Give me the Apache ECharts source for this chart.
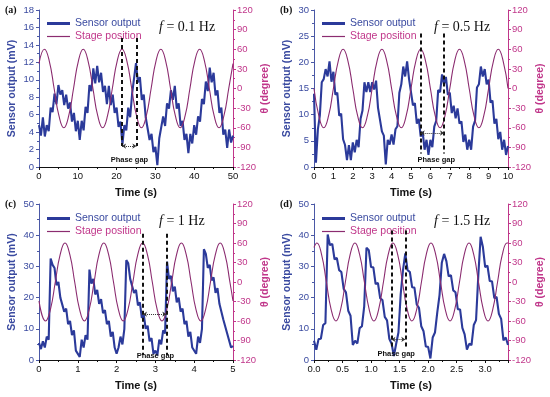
<!DOCTYPE html>
<html>
<head>
<meta charset="utf-8">
<script src="https://cdn.jsdelivr.net/npm/echarts@6/dist/echarts.min.js"></script>
<style>
  html, body { margin: 0; padding: 0; background: #fff; }
  #chart { width: 550px; height: 397px; }
</style>
</head>
<body>
<div id="chart"></div>
<script>
// ---- data ----
var panelTags = ['(a)', '(b)', '(c)', '(d)'];
var freqLabels = ['0.1', '0.5', '1', '1.5'];

// x axis: [min, max, interval]
var timeAxes = [[0, 50, 10], [0, 10, 1], [0, 5, 1], [0, 3.4, 0.5]];
// left y axis: [max, interval]
var sensorAxes = [[18, 2], [30, 5], [50, 10], [50, 10]];

// sensor output (mV), sampled evenly; sample step per panel (s)
var sensorStep = [0.5, 0.1, 0.05, 0.04];

var sensorA = [4.8, 3.6, 5.7, 3.5, 4.8, 4.1, 6.8, 6.3, 8.4, 7.2, 9.4, 8.3, 8.8, 7.1, 8.3, 6.7, 7.4, 5.2, 6.2, 4.1,
  5.3, 3.1, 5.3, 4.2, 6.9, 6.2, 9.4, 8.7, 11.3, 9.6, 11.6, 9.7, 10.8, 8.6, 9.3, 7.2, 9.3, 7.1, 8.3, 6.2,
  6.8, 4.6, 5.2, 2.6, 4.8, 4.2, 6.8, 5.7, 8.4, 8.2, 11.9, 9.7, 10.3, 7.7, 8.3, 5.7, 5.8, 3.1, 3.8, 1.7,
  2.3, 0.2, 3.3, 3.2, 5.8, 4.7, 7.3, 6.7, 8.8, 7.7, 9.3, 6.7, 7.3, 4.7, 5.3, 3.1, 3.8, 1.6, 3.8, 2.7,
  4.8, 3.7, 5.8, 5.2, 7.8, 7.2, 9.8, 8.7, 11.4, 9.7, 10.8, 8.2, 8.8, 6.2, 6.8, 3.7, 4.3, 2.2, 4.3, 2.8, 3.6];

var sensorB = [14, 0.8, 7.2, 9.8, 16.2, 16.8, 18.7, 17.3, 20.2, 16.3, 18.2, 13.8, 14.2, 9.8, 10.2, 5.3, 4.2, 1.3, 4.2, 1.3,
  4.7, 2.8, 5.2, 3.8, 9.2, 10.8, 16.2, 14.3, 16.2, 14.3, 16.2, 14.8, 16.5, 11.3, 11.2, 6.8, 6.0, 0.5, 5.2, 4.3,
  6.2, 4.3, 7.2, 7.8, 14.2, 15.8, 19.2, 17.3, 20.2, 16.8, 16.7, 11.8, 12.2, 8.3, 9.2, 5.8, 6.7, 3.3, 5.2, 2.3,
  5.2, 3.8, 7.7, 8.8, 14.7, 14.3, 17.7, 15.8, 17.2, 13.8, 14.2, 10.3, 11.7, 9.3, 11.2, 8.3, 8.7, 4.8, 6.2, 3.3,
  5.2, 3.3, 7.7, 8.8, 15.2, 15.8, 19.2, 17.3, 18.7, 15.8, 16.7, 12.3, 12.7, 8.3, 9.2, 5.3, 6.7, 3.3, 5.2, 2.3, 4];

var sensorC = [5.5, 3.5, 6, 4, 7.5, 6.5, 32.5, 30.5, 29.5, 24, 25, 20, 20.5, 15.5, 16.5, 11.5, 12.5, 8, 9.5, 3,
  2.5, 1, 6.5, 4, 8, 6.5, 29, 24.5, 26, 21, 22.5, 18, 19.5, 15, 16, 11.5, 12.5, 7.5, 9, 4,
  2, 4, 7.5, 5, 10, 32, 31, 26, 26.5, 21.5, 22.5, 17.5, 18.5, 13.5, 14.5, 10, 11, 6, 7, 2,
  3, 1.5, 6.5, 5, 9.5, 8.5, 31.5, 26, 27, 22, 23.5, 18.5, 20, 15.5, 16.5, 11.5, 12.5, 7.5, 9, 4,
  4.5, 2, 7.5, 5.5, 10, 35.5, 34, 29.5, 30.5, 25.5, 26.5, 21.5, 23, 18, 18.5, 13, 13.5, 8.5, 9, 4, 4.5];

var sensorD = [6.2, 3.3, 6.7, 6.8, 11.2, 11.8, 40.2, 36.8, 37.2, 32.3, 32.7, 28.8, 28.2, 22.8, 21.7, 15.8, 14.2, 4.8, 6.2, 5.3,
  10.2, 10.8, 17.2, 36, 35.2, 29.8, 29.7, 24.3, 24.7, 19.8, 19.2, 13.8, 12.7, 6.8, 5.2, 1.3, 5.2, 8.8, 21.2, 28.8,
  34.2, 28.8, 28.2, 23.3, 23.2, 17.8, 16.7, 10.8, 9.2, 4.3, 4.2, 0.5, 7.2, 8.8, 15.2, 20.8, 31.2, 34, 31.7, 26.8,
  27.2, 22.3, 21.7, 16.3, 16.2, 10.3, 8.2, 3.3, 5.2, 4.8, 11.2, 12.8, 27.2, 39.5, 36.2, 29.8, 30.2, 25.3, 25.2, 19.8,
  20.2, 14.8, 13.2, 6.3, 7.2, 4.8];

// stage position (degree): [time, angle] at peaks, zero crossings and troughs
var stageA = [[0, 38], [1.4, 60], [2.65, 42], [3.9, 0], [5.15, -42], [6.4, -60], [7.65, -42], [8.9, 0],
  [10.15, 42], [11.4, 60], [12.65, 42], [13.9, 0], [15.15, -42], [16.4, -60], [17.65, -42], [18.9, 0],
  [20.15, 42], [21.4, 60], [22.65, 42], [23.9, 0], [25.15, -42], [26.4, -60], [27.65, -42], [28.9, 0],
  [30.15, 42], [31.4, 60], [32.65, 42], [33.9, 0], [35.15, -42], [36.4, -60], [37.65, -42], [38.9, 0],
  [40.15, 42], [41.4, 60], [42.65, 42], [43.9, 0], [45.15, -42], [46.4, -60], [47.65, -42], [48.9, 0], [50, 38]];

var stageB = [[0, 0], [0.25, -42], [0.5, -60], [0.75, -42], [1, 0], [1.25, 42], [1.5, 60], [1.75, 42],
  [2, 0], [2.25, -42], [2.5, -60], [2.75, -42], [3, 0], [3.25, 42], [3.5, 60], [3.75, 42],
  [4, 0], [4.25, -42], [4.5, -60], [4.75, -42], [5, 0], [5.25, 42], [5.5, 60], [5.75, 42],
  [6, 0], [6.25, -42], [6.5, -60], [6.75, -42], [7, 0], [7.25, 42], [7.5, 60], [7.75, 42],
  [8, 0], [8.25, -42], [8.5, -60], [8.75, -42], [9, 0], [9.25, 42], [9.5, 60], [9.75, 42], [10, 0]];

var stageC = [[0, -29], [0.17, -60], [0.295, -42], [0.42, 0], [0.545, 42], [0.67, 60], [0.795, 42], [0.92, 0],
  [1.045, -42], [1.17, -60], [1.295, -42], [1.42, 0], [1.545, 42], [1.67, 60], [1.795, 42], [1.92, 0],
  [2.045, -42], [2.17, -60], [2.295, -42], [2.42, 0], [2.545, 42], [2.67, 60], [2.795, 42], [2.92, 0],
  [3.045, -42], [3.17, -60], [3.295, -42], [3.42, 0], [3.545, 42], [3.67, 60], [3.795, 42], [3.92, 0],
  [4.045, -42], [4.17, -60], [4.295, -42], [4.42, 0], [4.545, 42], [4.67, 60], [4.795, 42], [4.92, 0], [5, -29]];

var stageD = [[0, 53], [0.05, 60], [0.133, 42], [0.217, 0], [0.3, -42], [0.383, -60], [0.467, -42], [0.55, 0],
  [0.633, 42], [0.717, 60], [0.8, 42], [0.883, 0], [0.967, -42], [1.05, -60], [1.133, -42], [1.217, 0],
  [1.3, 42], [1.383, 60], [1.467, 42], [1.55, 0], [1.633, -42], [1.717, -60], [1.8, -42], [1.883, 0],
  [1.967, 42], [2.05, 60], [2.133, 42], [2.217, 0], [2.3, -42], [2.383, -60], [2.467, -42], [2.55, 0],
  [2.633, 42], [2.717, 60], [2.8, 42], [2.883, 0], [2.967, -42], [3.05, -60], [3.133, -42], [3.217, 0],
  [3.3, 42], [3.383, 60], [3.4, 60]];

// phase-gap marks: [t left, t right, top mV, bottom mV, arrow mV, label t, label mV]
var phaseGaps = [
  [21.4, 25.1, 14.8, 2.4, 2.4, 23.3, 0.85],
  [5.5, 6.7, 25.5, 2.6, 6.5, 6.3, 1.3],
  [2.68, 3.28, 40.5, 1.6, 14.7, 3.0, 1.3],
  [1.357, 1.6, 41.5, 4.3, 6.6, 1.44, 2.1]
];

var sensorData = [sensorA, sensorB, sensorC, sensorD];
var stageData = [stageA, stageB, stageC, stageD];

// ---- layout / style ----
var sans = "'Liberation Sans', Arial, sans-serif";
var serif = "'Liberation Serif', 'Times New Roman', serif";
var blue = '#2b3a9a';
var blueText = '#3a4aa0';
var purple = '#8b2c70';
var pink = '#c0368a';

var boxes = [
  { left: 39, top: 10, height: 157 },
  { left: 314, top: 10, height: 157 },
  { left: 39, top: 204, height: 156 },
  { left: 314, top: 204, height: 156 }
];

var grid = [], xAxis = [], yAxis = [], series = [], legend = [], graphic = [];

boxes.forEach(function(b, i) {
  grid.push({ left: b.left, top: b.top, width: 194, height: b.height });

  var ta = timeAxes[i];
  xAxis.push({
    gridIndex: i, type: 'value', min: ta[0], max: ta[1], interval: ta[2],
    axisLine: { lineStyle: { color: '#111', width: 1 } },
    axisTick: { length: 3, lineStyle: { color: '#111' } },
    minorTick: { show: true, splitNumber: 2, length: 2, lineStyle: { color: '#111' } },
    splitLine: { show: false },
    axisLabel: {
      color: '#111', fontSize: 9.5, fontFamily: sans, margin: 4, showMaxLabel: i !== 3,
      formatter: i === 3 ? function(v) { return v.toFixed(1); } : null
    },
    name: 'Time (s)', nameLocation: 'middle', nameGap: 20,
    nameTextStyle: { color: '#111', fontWeight: 'bold', fontSize: 11, fontFamily: sans }
  });

  var sa = sensorAxes[i];
  yAxis.push({
    gridIndex: i, type: 'value', position: 'left', min: 0, max: sa[0], interval: sa[1],
    axisLine: { show: true, lineStyle: { color: '#4a58a6' } },
    axisTick: { show: true, length: 3 },
    minorTick: { show: true, splitNumber: 2, length: 2 },
    splitLine: { show: false },
    axisLabel: { color: blueText, fontSize: 9.5, fontFamily: sans, margin: 5 },
    name: 'Sensor output (mV)', nameLocation: 'middle', nameGap: 21,
    nameTextStyle: { color: blueText, fontWeight: 'bold', fontSize: 10.5, fontFamily: sans }
  });
  yAxis.push({
    gridIndex: i, type: 'value', position: 'right', min: -120, max: 120, interval: 30,
    axisLine: { show: true, lineStyle: { color: pink } },
    axisTick: { show: true, length: 3 },
    minorTick: { show: true, splitNumber: 2, length: 2 },
    splitLine: { show: false },
    axisLabel: { color: pink, fontSize: 9.5, fontFamily: sans, margin: 4 },
    name: 'θ (degree)', nameLocation: 'middle', nameGap: 27, nameRotate: 90,
    nameTextStyle: { color: pink, fontWeight: 'bold', fontSize: 10.5, fontFamily: sans }
  });

  var step = sensorStep[i];
  var pairs = sensorData[i].map(function(v, k) { return [+(k * step).toFixed(3), v]; });
  var g = phaseGaps[i];

  series.push({
    name: 'Sensor output', type: 'line', xAxisIndex: i, yAxisIndex: 2 * i,
    data: pairs, symbol: 'none', lineStyle: { color: blue, width: 2.1 }, itemStyle: { color: blue },
    z: 2, animation: false,
    markLine: {
      silent: true, symbol: 'none', animation: false,
      label: { show: false },
      lineStyle: { color: '#111', type: [4, 3], width: 2 },
      data: [
        [{ coord: [g[0], g[2]] }, { coord: [g[0], g[3]] }],
        [{ coord: [g[1], g[2]] }, { coord: [g[1], g[3]] }],
        [{ coord: [g[0], g[4]], symbol: 'arrow', symbolSize: 4, lineStyle: { type: 'dotted', width: 1, color: '#333' } },
         { coord: [g[1], g[4]], symbol: 'arrow', symbolSize: 4 }]
      ]
    },
    markPoint: {
      silent: true, animation: false, symbol: 'circle', symbolSize: 1,
      itemStyle: { color: 'transparent' },
      label: { show: true, position: 'inside', formatter: 'Phase gap', color: '#111',
        fontSize: 7.5, fontWeight: 'bold', fontFamily: sans },
      data: [{ coord: [g[5], g[6]] }]
    }
  });
  series.push({
    name: 'Stage position', type: 'line', xAxisIndex: i, yAxisIndex: 2 * i + 1,
    data: stageData[i], symbol: 'none', smooth: 0.5,
    lineStyle: { color: purple, width: 1.1 }, itemStyle: { color: purple },
    z: 3, animation: false
  });

  var lt = i < 2 ? 13 : 208;
  legend.push({
    left: b.left + 3, top: lt, orient: 'vertical', itemWidth: 23, itemHeight: 10, itemGap: 2,
    selectedMode: false,
    textStyle: { fontSize: 10.5, fontFamily: sans },
    data: [
      { name: 'Sensor output', icon: 'path://M0,0H230V30H0Z', textStyle: { color: blueText } },
      { name: 'Stage position', icon: 'path://M0,0H230V12H0Z', textStyle: { color: pink } }
    ]
  });

  graphic.push({
    type: 'text', left: b.left - 34, top: b.top - 5,
    style: { text: panelTags[i], font: 'bold 10px ' + serif, fill: '#111' }
  });
  graphic.push({
    type: 'text', left: b.left + 120, top: b.top + 10,
    style: {
      text: '{i|f} = ' + freqLabels[i] + ' Hz',
      font: '14px ' + serif, fill: '#111',
      rich: { i: { fontStyle: 'italic', fontFamily: serif, fontSize: 14 } }
    }
  });
});

var chart = echarts.init(document.getElementById('chart'), null, { renderer: 'canvas' });
chart.setOption({
  animation: false,
  backgroundColor: '#fff',
  grid: grid,
  xAxis: xAxis,
  yAxis: yAxis,
  legend: legend,
  series: series,
  graphic: graphic
});
</script>
</body>
</html>
